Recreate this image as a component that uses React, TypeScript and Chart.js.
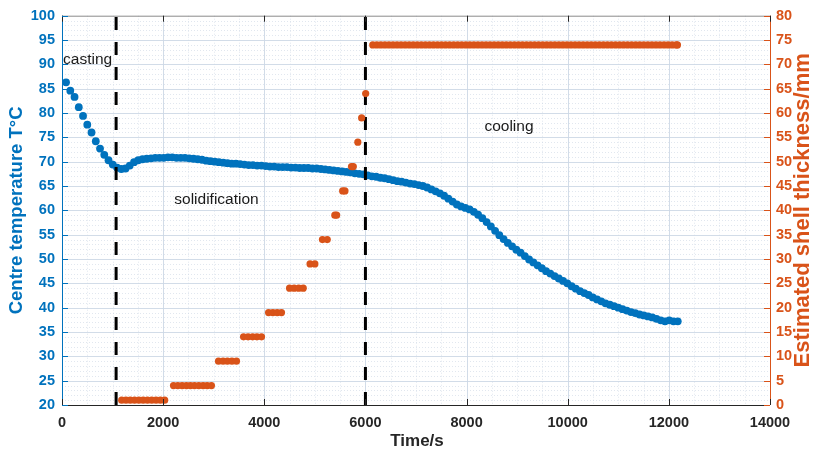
import React, { useEffect, useRef } from "react";
import { Chart, registerables } from "chart.js";

Chart.register(...registerables);

// ---------- data ----------
const TEMP_START_S = 80;
const TEMP_STEP_S = 84;
const centreTemperature = [
  86.3, 84.6, 83.3, 81.2, 79.4, 77.6, 76.0, 74.2, 72.7, 71.4,
  70.3, 69.4, 68.8, 68.5, 68.6, 69.2, 69.9, 70.3, 70.5, 70.6,
  70.7, 70.8, 70.8, 70.8, 70.9, 70.9, 70.8, 70.8, 70.8, 70.7,
  70.6, 70.5, 70.4, 70.2, 70.1, 70.0, 69.9, 69.8, 69.7, 69.6,
  69.6, 69.5, 69.4, 69.3, 69.3, 69.2, 69.2, 69.1, 69.0, 69.0,
  68.9, 68.9, 68.9, 68.8, 68.8, 68.7, 68.7, 68.7, 68.6, 68.6,
  68.5, 68.4, 68.3, 68.2, 68.1, 68.0, 67.9, 67.8, 67.6, 67.5,
  67.4, 67.2, 67.0, 66.9, 66.7, 66.6, 66.4, 66.2, 66.0, 65.9,
  65.7, 65.5, 65.4, 65.2, 65.0, 64.7, 64.3, 63.9, 63.5, 63.0,
  62.4, 61.8, 61.2, 60.8, 60.5, 60.2, 59.7, 59.1, 58.4, 57.6,
  56.7, 55.8, 54.9, 54.1, 53.3, 52.6, 51.9, 51.3, 50.6, 49.9,
  49.3, 48.7, 48.1, 47.5, 47.0, 46.5, 46.0, 45.5, 45.0, 44.4,
  43.9, 43.4, 43.0, 42.6, 42.1, 41.7, 41.3, 40.9, 40.6, 40.3,
  40.0, 39.7, 39.4, 39.1, 38.9, 38.6, 38.4, 38.2, 38.0, 37.7,
  37.4, 37.2, 37.4, 37.2, 37.2,
];

const shellLevelsMm = [1, 4, 9, 14, 19, 24, 29, 34, 39, 44, 49, 54, 59, 64, 74];
const shellTimesByLevel = [
  [1180, 1265, 1350, 1435, 1520, 1605, 1690, 1775, 1860, 1945, 2030],
  [2205, 2290, 2375, 2460, 2540, 2620, 2705, 2790, 2870, 2955],
  [3095, 3185, 3270, 3360, 3450],
  [3590, 3680, 3770, 3855, 3945],
  [4085, 4170, 4255, 4340],
  [4500, 4590, 4680, 4770],
  [4905, 5000],
  [5150, 5245],
  [5395, 5430],
  [5550, 5595],
  [5725, 5760],
  [5850],
  [5925],
  [6005],
  [6145, 6225, 6305, 6385, 6465, 6545, 6625, 6705, 6785, 6865, 6945, 7025,
   7105, 7185, 7265, 7345, 7425, 7505, 7585, 7665, 7745, 7825, 7905, 7985,
   8065, 8145, 8225, 8305, 8385, 8465, 8545, 8625, 8705, 8785, 8865, 8945,
   9025, 9105, 9185, 9265, 9345, 9425, 9505, 9585, 9665, 9745, 9825, 9905,
   9985, 10065, 10145, 10225, 10305, 10385, 10465, 10545, 10625, 10705,
   10785, 10865, 10945, 11025, 11105, 11185, 11265, 11345, 11425, 11505,
   11585, 11665, 11745, 11825, 11905, 11985, 12065, 12145, 12170],
];

const phaseBoundaries = [1070, 6000];
const phaseNames = ["casting", "solidification", "cooling"];
const phaseNameAnchors = [
  { t: 20, temp: 91.0, align: "left" },
  { t: 3055, temp: 62.2, align: "center" },
  { t: 8838, temp: 77.1, align: "center" },
];

const X_MIN = 0, X_MAX = 14000, X_STEP = 2000, X_MINOR = 500;
const YL_MIN = 20, YL_MAX = 100, Y_STEP = 5, YL_MINOR = 1;
const YR_MIN = 0, YR_MAX = 80;

const xTitle = "Time/s";
const yLeftTitle = "Centre temperature T°C";
const yRightTitle = "Estimated shell thickness/mm";

// ---------- styles ----------
const BLUE = "#0072BD";
const ORANGE = "#D95319";
const DARK = "#262626";
const FONT = "'Liberation Sans', Arial, Helvetica, sans-serif";

const decorPlugin = {
  id: "decor",
  beforeDatasetsDraw(chart: any) {
    const { ctx, chartArea: a, scales } = chart;
    const xs = scales.x, yl = scales.y;
    ctx.save();
    // minor grid
    ctx.strokeStyle = "rgba(200,212,226,0.55)";
    ctx.lineWidth = 1;
    ctx.setLineDash([1, 2]);
    for (let v = X_MIN; v <= X_MAX; v += X_MINOR) {
      if (v % X_STEP === 0) continue;
      const px = Math.round(xs.getPixelForValue(v)) + 0.5;
      ctx.beginPath(); ctx.moveTo(px, a.top); ctx.lineTo(px, a.bottom); ctx.stroke();
    }
    for (let v = YL_MIN; v <= YL_MAX; v += YL_MINOR) {
      if (v % Y_STEP === 0) continue;
      const py = Math.round(yl.getPixelForValue(v)) + 0.5;
      ctx.beginPath(); ctx.moveTo(a.left, py); ctx.lineTo(a.right, py); ctx.stroke();
    }
    // major grid
    ctx.setLineDash([]);
    ctx.strokeStyle = "rgba(205,216,230,0.9)";
    for (let v = X_MIN + X_STEP; v < X_MAX; v += X_STEP) {
      const px = Math.round(xs.getPixelForValue(v)) + 0.5;
      ctx.beginPath(); ctx.moveTo(px, a.top); ctx.lineTo(px, a.bottom); ctx.stroke();
    }
    for (let v = YL_MIN + Y_STEP; v < YL_MAX; v += Y_STEP) {
      const py = Math.round(yl.getPixelForValue(v)) + 0.5;
      ctx.beginPath(); ctx.moveTo(a.left, py); ctx.lineTo(a.right, py); ctx.stroke();
    }
    ctx.restore();
  },
  afterDatasetDraw(chart: any, args: any) {
    if (args.index !== 0) return;
    const { ctx, chartArea: a, scales } = chart;
    ctx.save();
    ctx.strokeStyle = "#000";
    ctx.lineWidth = 3;
    ctx.setLineDash([13, 12]);
    for (const t of phaseBoundaries) {
      const px = scales.x.getPixelForValue(t);
      ctx.beginPath(); ctx.moveTo(px, a.bottom); ctx.lineTo(px, a.top); ctx.stroke();
    }
    ctx.restore();
  },
  afterDraw(chart: any) {
    const { ctx, chartArea: a, scales } = chart;
    const xs = scales.x, yl = scales.y, yr = scales.y1;
    ctx.save();
    ctx.lineWidth = 1;
    // box / axes
    ctx.strokeStyle = "#8a8a8a";
    ctx.beginPath(); ctx.moveTo(a.left, a.top + 0.5); ctx.lineTo(a.right, a.top + 0.5); ctx.stroke();
    ctx.strokeStyle = DARK;
    ctx.beginPath(); ctx.moveTo(a.left, a.bottom + 0.5); ctx.lineTo(a.right, a.bottom + 0.5); ctx.stroke();
    ctx.strokeStyle = BLUE;
    ctx.beginPath(); ctx.moveTo(Math.round(a.left) + 0.5, a.top); ctx.lineTo(Math.round(a.left) + 0.5, a.bottom); ctx.stroke();
    ctx.strokeStyle = ORANGE;
    ctx.beginPath(); ctx.moveTo(Math.round(a.right) + 0.5, a.top); ctx.lineTo(Math.round(a.right) + 0.5, a.bottom); ctx.stroke();
    // inward ticks
    const TL = 6;
    ctx.strokeStyle = DARK;
    for (let v = X_MIN; v <= X_MAX; v += X_STEP) {
      const px = Math.round(xs.getPixelForValue(v)) + 0.5;
      ctx.beginPath(); ctx.moveTo(px, a.bottom); ctx.lineTo(px, a.bottom - TL); ctx.stroke();
      ctx.beginPath(); ctx.moveTo(px, a.top); ctx.lineTo(px, a.top + TL); ctx.stroke();
    }
    ctx.strokeStyle = BLUE;
    for (let v = YL_MIN; v <= YL_MAX; v += Y_STEP) {
      const py = Math.round(yl.getPixelForValue(v)) + 0.5;
      ctx.beginPath(); ctx.moveTo(a.left, py); ctx.lineTo(a.left + TL, py); ctx.stroke();
    }
    ctx.strokeStyle = ORANGE;
    for (let v = YR_MIN; v <= YR_MAX; v += Y_STEP) {
      const py = Math.round(yr.getPixelForValue(v)) + 0.5;
      ctx.beginPath(); ctx.moveTo(a.right, py); ctx.lineTo(a.right - TL, py); ctx.stroke();
    }
    // phase names
    ctx.fillStyle = "#1a1a1a";
    ctx.font = `15.5px ${FONT}`;
    ctx.textBaseline = "middle";
    phaseNames.forEach((name, i) => {
      const an = phaseNameAnchors[i];
      ctx.textAlign = an.align as CanvasTextAlign;
      ctx.fillText(name, xs.getPixelForValue(an.t), yl.getPixelForValue(an.temp));
    });
    // axis titles
    const midY = (a.top + a.bottom) / 2;
    ctx.textAlign = "center";
    ctx.fillStyle = DARK;
    ctx.font = `bold 17px ${FONT}`;
    ctx.fillText(xTitle, (a.left + a.right) / 2 + 1, 441);
    ctx.save();
    ctx.translate(17, midY);
    ctx.rotate(-Math.PI / 2);
    ctx.fillStyle = BLUE;
    ctx.font = `bold 18.5px ${FONT}`;
    ctx.fillText(yLeftTitle, 0, 0);
    ctx.restore();
    ctx.save();
    ctx.translate(803, midY);
    ctx.rotate(-Math.PI / 2);
    ctx.fillStyle = ORANGE;
    ctx.font = `bold 22px ${FONT}`;
    ctx.fillText(yRightTitle, 0, 0);
    ctx.restore();
    ctx.restore();
  },
};

export default function App() {
  const ref = useRef<HTMLCanvasElement | null>(null);
  useEffect(() => {
    if (!ref.current) return;
    const tempPoints = centreTemperature.map((v, i) => ({ x: TEMP_START_S + i * TEMP_STEP_S, y: v }));
    const shellPoints: { x: number; y: number }[] = [];
    shellTimesByLevel.forEach((times, li) => {
      times.forEach((t) => shellPoints.push({ x: t, y: shellLevelsMm[li] }));
    });
    const tickFont = { family: FONT, size: 14.5, weight: "bold" as const };
    const chart = new Chart(ref.current, {
      type: "scatter",
      data: {
        datasets: [
          {
            label: "Centre temperature",
            data: tempPoints,
            yAxisID: "y",
            backgroundColor: BLUE,
            borderWidth: 0,
            pointRadius: 3.9,
            order: 2,
          },
          {
            label: "Shell thickness",
            data: shellPoints,
            yAxisID: "y1",
            backgroundColor: ORANGE,
            borderWidth: 0,
            pointRadius: 3.6,
            order: 1,
          },
        ],
      },
      options: {
        responsive: false,
        maintainAspectRatio: false,
        animation: false,
        devicePixelRatio: 1,
        layout: { padding: { top: 13, left: 0, right: 0, bottom: 0 } },
        plugins: { legend: { display: false }, tooltip: { enabled: false } },
        scales: {
          x: {
            type: "linear",
            min: X_MIN,
            max: X_MAX,
            grid: { display: false, drawTicks: false },
            border: { display: false },
            ticks: {
              stepSize: X_STEP,
              color: DARK,
              font: tickFont,
              padding: 9,
              maxRotation: 0,
              callback: (v: any) => String(v),
            },
            afterFit: (s: any) => { s.height = 52; },
          },
          y: {
            type: "linear",
            position: "left",
            min: YL_MIN,
            max: YL_MAX,
            grid: { display: false, drawTicks: false },
            border: { display: false },
            ticks: { stepSize: Y_STEP, color: BLUE, font: tickFont, padding: 7 },
            afterFit: (s: any) => { s.width = 62; },
          },
          y1: {
            type: "linear",
            position: "right",
            min: YR_MIN,
            max: YR_MAX,
            grid: { display: false, drawTicks: false },
            border: { display: false },
            ticks: { stepSize: Y_STEP, color: ORANGE, font: tickFont, padding: 6 },
            afterFit: (s: any) => { s.width = 43; },
          },
        },
      },
      plugins: [decorPlugin],
    });
    return () => chart.destroy();
  }, []);
  return (
    <div style={{ position: "absolute", left: 0, top: 0, width: 813, height: 457, background: "#fff" }}>
      <canvas ref={ref} width={813} height={457} style={{ display: "block" }} />
    </div>
  );
}
